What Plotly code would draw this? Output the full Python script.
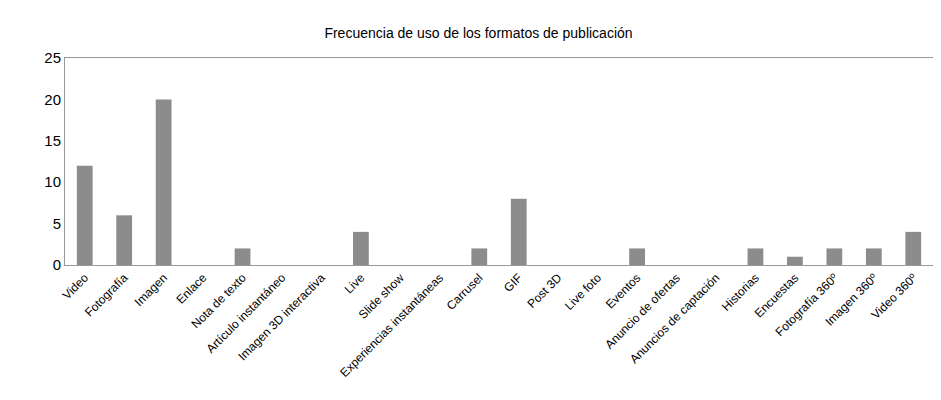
import plotly.graph_objects as go

categorias = ["Video", "Fotografía", "Imagen", "Enlace", "Nota de texto", "Artículo instantáneo",
              "Imagen 3D interactiva", "Live", "Slide show", "Experiencias instantáneas", "Carrusel",
              "GIF", "Post 3D", "Live foto", "Eventos", "Anuncio de ofertas", "Anuncios de captación",
              "Historias", "Encuestas", "Fotografía 360º", "Imagen 360º", "Video 360º"]
frecuencia = [12, 6, 20, 0, 2, 0, 0, 4, 0, 0, 2, 8, 0, 0, 2, 0, 0, 2, 1, 2, 2, 4]
ticks_y = [0, 5, 10, 15, 20, 25]

fig = go.Figure()
fig.add_trace(go.Bar(
    x=categorias, y=frecuencia, width=0.4,
    marker=dict(color="#8c8c8c", line=dict(width=0)),
))

fig.update_layout(
    title=dict(text="Frecuencia de uso de los formatos de publicación", x=0.5, y=0.95,
               font=dict(family="Liberation Sans", size=14, color="black")),
    font=dict(family="Liberation Sans", size=12, color="black"),
    plot_bgcolor="white", paper_bgcolor="white",
    width=941, height=400,
    margin=dict(l=57, r=16, t=50, b=143),
    showlegend=False,
)
fig.update_xaxes(tickangle=-45, showline=True, linecolor="#999", mirror=True, ticks="",
                 tickfont=dict(size=12))
fig.update_yaxes(range=[0, 25], tickvals=ticks_y, showgrid=False, showline=True, linecolor="#999",
                 mirror=True, tickfont=dict(size=15), zeroline=False)

fig.write_html("out.html")
